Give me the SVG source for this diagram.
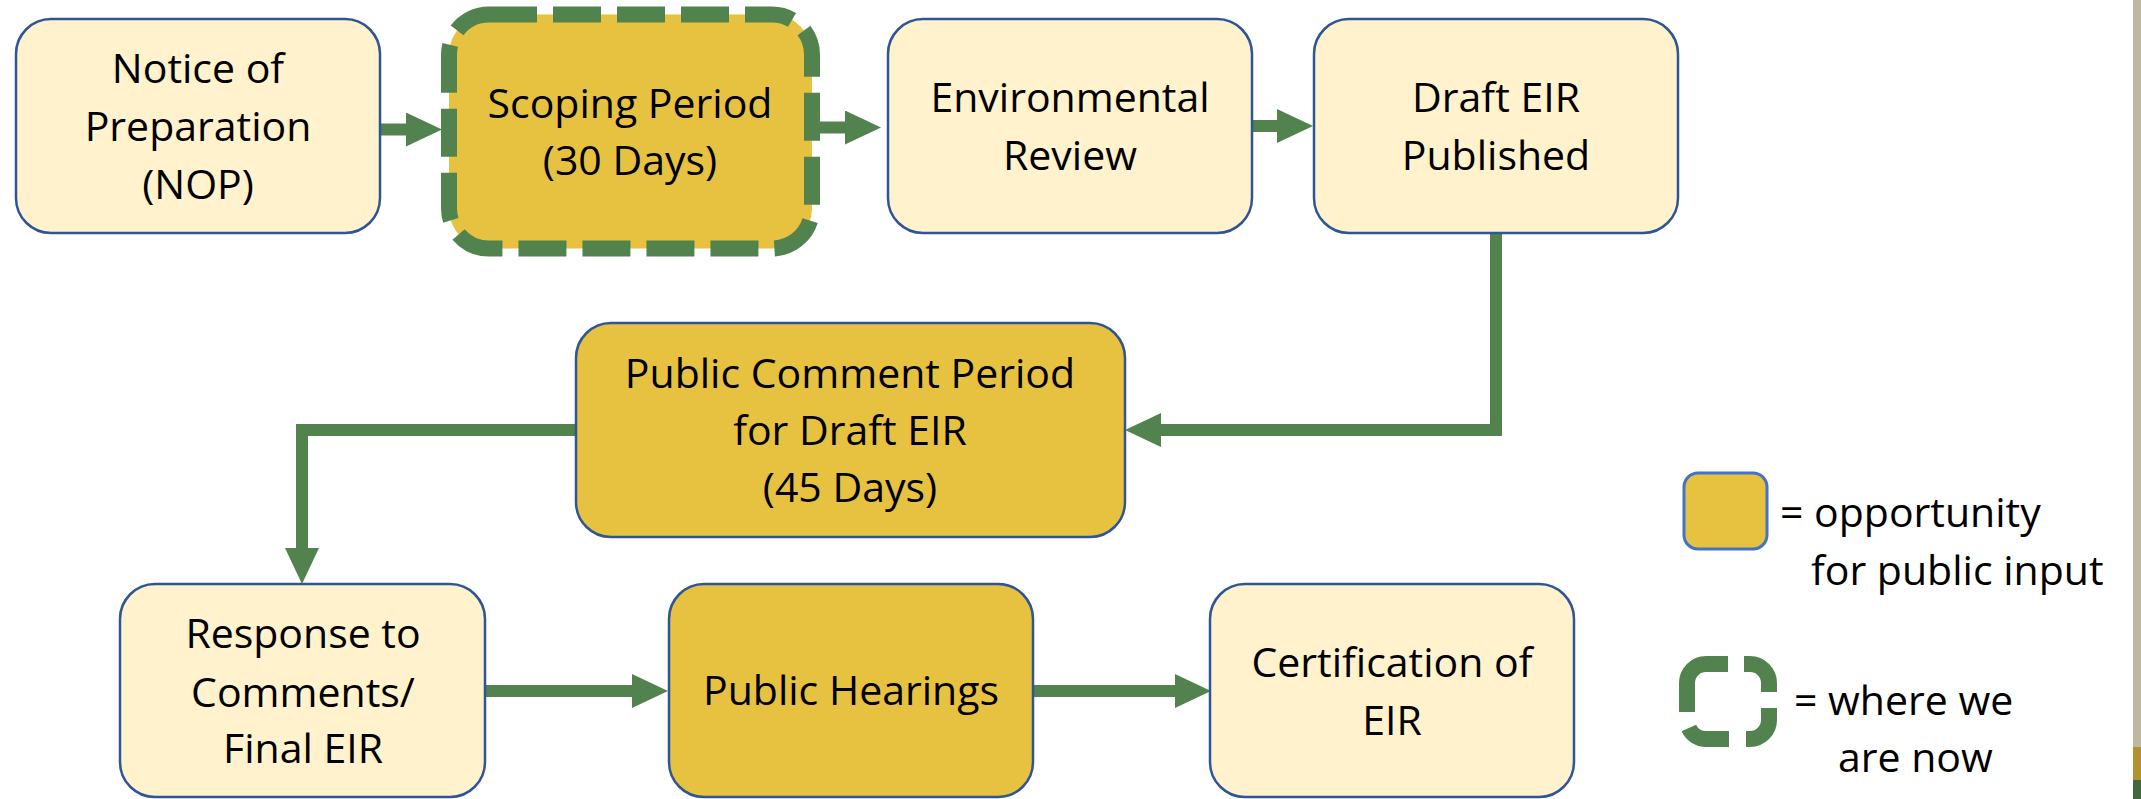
<svg xmlns="http://www.w3.org/2000/svg" width="2141" height="799" viewBox="0 0 2141 799">
  <style>
    .box { fill: #FFF2CC; stroke: #2F5597; stroke-width: 2.5; }
    .input { fill: #E6C240; stroke: #2F5597; stroke-width: 2.5; }
    .label { font-family: "Open Sans", "Liberation Sans", sans-serif; font-size: 41px; fill: #000; text-anchor: middle; }
    .legend { font-family: "Open Sans", "Liberation Sans", sans-serif; font-size: 41px; fill: #000; }
    .flow { fill: none; stroke: #52834F; stroke-width: 12; stroke-linejoin: miter; }
    .now { fill: none; stroke: #52834F; stroke-width: 16; }
  </style>
  <defs>
    <marker id="head" viewBox="0 0 36 34" markerWidth="36" markerHeight="34" refX="0" refY="17" orient="auto" markerUnits="userSpaceOnUse">
      <path d="M0,0 L36,17 L0,34 Z" fill="#52834F"/>
    </marker>
  </defs>

  <rect width="2141" height="799" fill="#FFFFFF"/>

  <!-- side band -->
  <rect x="2133" y="0" width="8" height="747" fill="#BDB8A1"/>
  <rect x="2133" y="747" width="8" height="33" fill="#B0922F"/>
  <rect x="2133" y="780" width="8" height="19" fill="#43683F"/>

  <!-- connectors -->
  <g id="connectors">
    <path class="flow" d="M380,129.5 H406" marker-end="url(#head)"/>
    <path class="flow" d="M820,127.5 H845" marker-end="url(#head)"/>
    <path class="flow" d="M1252,126 H1277" marker-end="url(#head)"/>
    <path class="flow" d="M1496,233 V430 H1161" marker-end="url(#head)"/>
    <path class="flow" d="M576,430 H302 V548" marker-end="url(#head)"/>
    <path class="flow" d="M485,691 H632" marker-end="url(#head)"/>
    <path class="flow" d="M1033,691 H1175" marker-end="url(#head)"/>
  </g>

  <g id="nop">
    <rect class="box" x="16" y="19" width="364" height="214" rx="35"/>
    <text class="label" x="198" y="83">Notice of</text>
    <text class="label" x="198" y="141">Preparation</text>
    <text class="label" x="198" y="199">(NOP)</text>
  </g>

  <g id="scoping">
    <rect x="449" y="14.5" width="363" height="234" rx="40" fill="#E6C240"/>
    <rect x="449" y="14.5" width="363" height="234" rx="40" class="now" stroke-dasharray="48 16"/>
    <text class="label" x="630" y="118">Scoping Period</text>
    <text class="label" x="630" y="175">(30 Days)</text>
  </g>

  <g id="environmental-review">
    <rect class="box" x="888" y="19" width="364" height="214" rx="35"/>
    <text class="label" x="1070" y="112">Environmental</text>
    <text class="label" x="1070" y="170">Review</text>
  </g>

  <g id="draft-eir">
    <rect class="box" x="1314" y="19" width="364" height="214" rx="35"/>
    <text class="label" x="1496" y="112">Draft EIR</text>
    <text class="label" x="1496" y="170">Published</text>
  </g>

  <g id="public-comment">
    <rect class="input" x="576" y="323" width="549" height="214" rx="35"/>
    <text class="label" x="850" y="388">Public Comment Period</text>
    <text class="label" x="850" y="445">for Draft EIR</text>
    <text class="label" x="850" y="502">(45 Days)</text>
  </g>

  <g id="response">
    <rect class="box" x="120" y="584" width="365" height="213" rx="35"/>
    <text class="label" x="303" y="648">Response to</text>
    <text class="label" x="303" y="707">Comments/</text>
    <text class="label" x="303" y="763">Final EIR</text>
  </g>

  <g id="public-hearings">
    <rect class="input" x="669" y="584" width="364" height="213" rx="35"/>
    <text class="label" x="851" y="705">Public Hearings</text>
  </g>

  <g id="certification">
    <rect class="box" x="1210" y="584" width="364" height="213" rx="35"/>
    <text class="label" x="1392" y="677">Certification of</text>
    <text class="label" x="1392" y="735">EIR</text>
  </g>

  <!-- key -->
  <g id="legend-input">
    <rect x="1684" y="473" width="83" height="76" rx="14" fill="#E6C240" stroke="#4472C4" stroke-width="3"/>
    <text class="legend" x="1780" y="527">= opportunity</text>
    <text class="legend" x="1811" y="585">for public input</text>
  </g>

  <g id="legend-now">
    <path class="now" d="M1728,664 H1706 A19,19 0 0 0 1687,683 V712"/>
    <path class="now" d="M1744,664 H1750 A19,19 0 0 1 1769,683 V692"/>
    <path class="now" d="M1769,708 V720 A19,19 0 0 1 1750,739 H1746"/>
    <path class="now" d="M1729,739 H1706 A19,19 0 0 1 1688.8,728"/>
    <text class="legend" x="1794" y="715">= where we</text>
    <text class="legend" x="1838" y="772">are now</text>
  </g>
</svg>
